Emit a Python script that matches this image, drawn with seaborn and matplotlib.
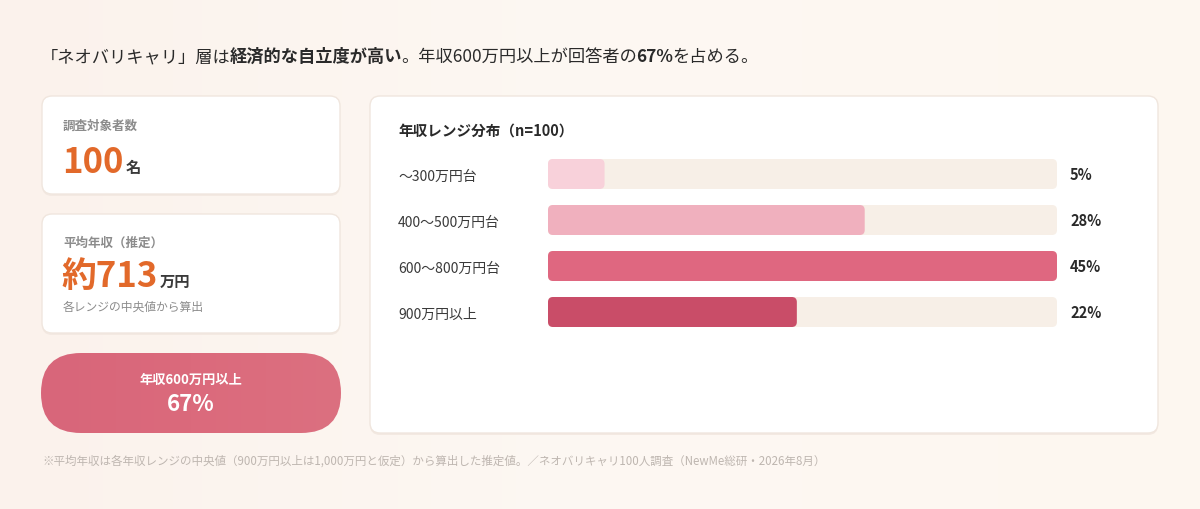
import numpy as np
import seaborn as sns
import matplotlib.pyplot as plt
from matplotlib.patches import FancyBboxPatch

# ---- data ----
ranges = ["～300万円台", "400～500万円台", "600～800万円台", "900万円以上"]
share = [5, 28, 45, 22]
bar_colors = ["#f8d1da", "#f0b0be", "#df6780", "#c94d68"]
respondents = 100
avg_income = 713
share_600_plus = 67

sns.set_style("white")
plt.rcParams['font.family'] = ['Noto Sans CJK JP', 'DejaVu Sans']

W, H = 1200, 510
fig = plt.figure(figsize=(12, 5.1), dpi=100)
fig.patch.set_facecolor("#fcf6f1")

# full-figure overlay in pixel coords
bg = fig.add_axes([0, 0, 1, 1])
bg.set_xlim(0, W)
bg.set_ylim(H, 0)
bg.axis("off")

# soft background gradient
grad = np.linspace(0, 1, 256)[None, :]
bg.imshow(grad, extent=[0, W, H, 0], cmap=sns.blend_palette(["#fbf2ec", "#fdf8f3", "#fdf7f0"], as_cmap=True),
          aspect="auto", zorder=0)

DARK = "#2a2a2a"
GRAY = "#8c8c8c"
ORANGE = "#e2692a"
renderer = fig.canvas.get_renderer()


def run_text(x, y, parts, size, tighten=0):
    for txt, weight, color, sz in parts:
        t = bg.text(x, y, txt, fontsize=sz or size, fontweight=weight, color=color,
                    va="baseline", ha="left", zorder=5)
        x += t.get_window_extent(renderer).width - tighten


def card(x0, y0, x1, y1, r=10, fc="white", ec="#f0e6de"):
    # faint shadow then card
    bg.add_patch(FancyBboxPatch((x0, y0 + 2), x1 - x0, y1 - y0,
                                boxstyle=f"round,pad=0,rounding_size={r}",
                                fc="#f3e9e2", ec="none", zorder=1.5))
    bg.add_patch(FancyBboxPatch((x0, y0), x1 - x0, y1 - y0,
                                boxstyle=f"round,pad=0,rounding_size={r}",
                                fc=fc, ec=ec, lw=1, zorder=2))


# headline
run_text(41, 62, [
    ("「ネオバリキャリ」層は", "normal", DARK, None),
    ("経済的な自立度が高い", "bold", DARK, None),
    ("。年収600万円以上が回答者の", "normal", DARK, None),
    (f"{share_600_plus}%", "bold", DARK, None),
    ("を占める。", "normal", DARK, None),
], 12.4, tighten=1)

# left cards
card(42, 97, 340, 195)
bg.text(63, 130, "調査対象者数", fontsize=9, color=GRAY, fontweight="bold", zorder=5)
run_text(62, 173, [(f"{respondents}", "bold", ORANGE, 25), (" ", "normal", DARK, 7),
                   ("名", "bold", "#3a3a3a", 11)], 11)

card(42, 215, 340, 334)
bg.text(63, 247, "平均年収（推定）", fontsize=9, color=GRAY, fontweight="bold", zorder=5)
run_text(61, 287, [(f"約{avg_income}", "bold", ORANGE, 25), (" ", "normal", DARK, 7),
                   ("万円", "bold", "#3a3a3a", 11)], 11)
bg.text(63, 311, "各レンジの中央値から算出", fontsize=8.5, color=GRAY, zorder=5)

# pill with a gentle horizontal gradient
pill = FancyBboxPatch((41, 354), 300, 80, boxstyle="round,pad=0,rounding_size=40",
                      fc="none", ec="none", zorder=2)
bg.add_patch(pill)
pg = bg.imshow(grad, extent=[41, 341, 434, 354], aspect="auto", zorder=2,
               interpolation="bilinear",
               cmap=sns.blend_palette(["#d8667a", "#db6a7c", "#dc7080"], as_cmap=True))
pg.set_clip_path(pill)
bg.text(191, 380, "年収600万円以上", fontsize=9.5, color="white", fontweight="bold",
        ha="center", va="center", zorder=5)
bg.text(191, 405, f"{share_600_plus}%", fontsize=16, color="white", fontweight="bold",
        ha="center", va="center", zorder=5)

# right card
card(370, 97, 1158, 434, r=10)
bg.text(398, 131, f"年収レンジ分布（n={respondents}）", fontsize=10.5, color=DARK,
        fontweight="bold", va="center", zorder=5)

# footnote
bg.text(42, 461, "※平均年収は各年収レンジの中央値（900万円以上は1,000万円と仮定）から算出した推定値。／ネオバリキャリ100人調査（NewMe総研・2026年8月）",
        fontsize=8.3, color="#beb6b0", va="center", zorder=5)

# ---- bar chart ----
x0, x1 = 548, 1057
y_top, y_bot = 152, 336
ax = fig.add_axes([x0 / W, 1 - y_bot / H, (x1 - x0) / W, (y_bot - y_top) / H])
ax.set_facecolor("none")

bar_w = 30 / 46
top = max(share)
sns.barplot(x=[top] * len(ranges), y=ranges, color="#f7efe7", width=bar_w, ax=ax,
            saturation=1, orient="h")
sns.barplot(x=share, y=ranges, hue=ranges, palette=bar_colors, width=bar_w, ax=ax,
            saturation=1, legend=False, orient="h")
ax.set_xlim(0, top)
ax.set_ylim(len(ranges) - 0.5, -0.5)

# rounded bars
px_x = (x1 - x0) / top
px_y = (y_bot - y_top) / len(ranges)
r = 5 / px_x
asp = (5 / px_y) / r
for p in list(ax.patches):
    fb = FancyBboxPatch((p.get_x(), p.get_y()), p.get_width(), p.get_height(),
                        boxstyle=f"round,pad=0,rounding_size={r}", mutation_aspect=asp,
                        fc=p.get_facecolor(), ec="none")
    p.remove()
    ax.add_patch(fb)

for i, v in enumerate(share):
    ax.annotate(f"{v}%", xy=(1, i), xycoords=("axes fraction", "data"),
                xytext=(13 * 0.72, 0), textcoords="offset points",
                fontsize=10.5, fontweight="bold", color=DARK, va="center", ha="left")

ax.set_xlabel("")
ax.set_ylabel("")
ax.set_xticks([])
ax.tick_params(axis="y", length=0, pad=150 * 0.72, labelsize=10, labelcolor="#3a3a3a")
for lbl in ax.get_yticklabels():
    lbl.set_ha("left")
sns.despine(ax=ax, left=True, bottom=True)

fig.savefig("out.png", dpi=100, facecolor=fig.get_facecolor())
